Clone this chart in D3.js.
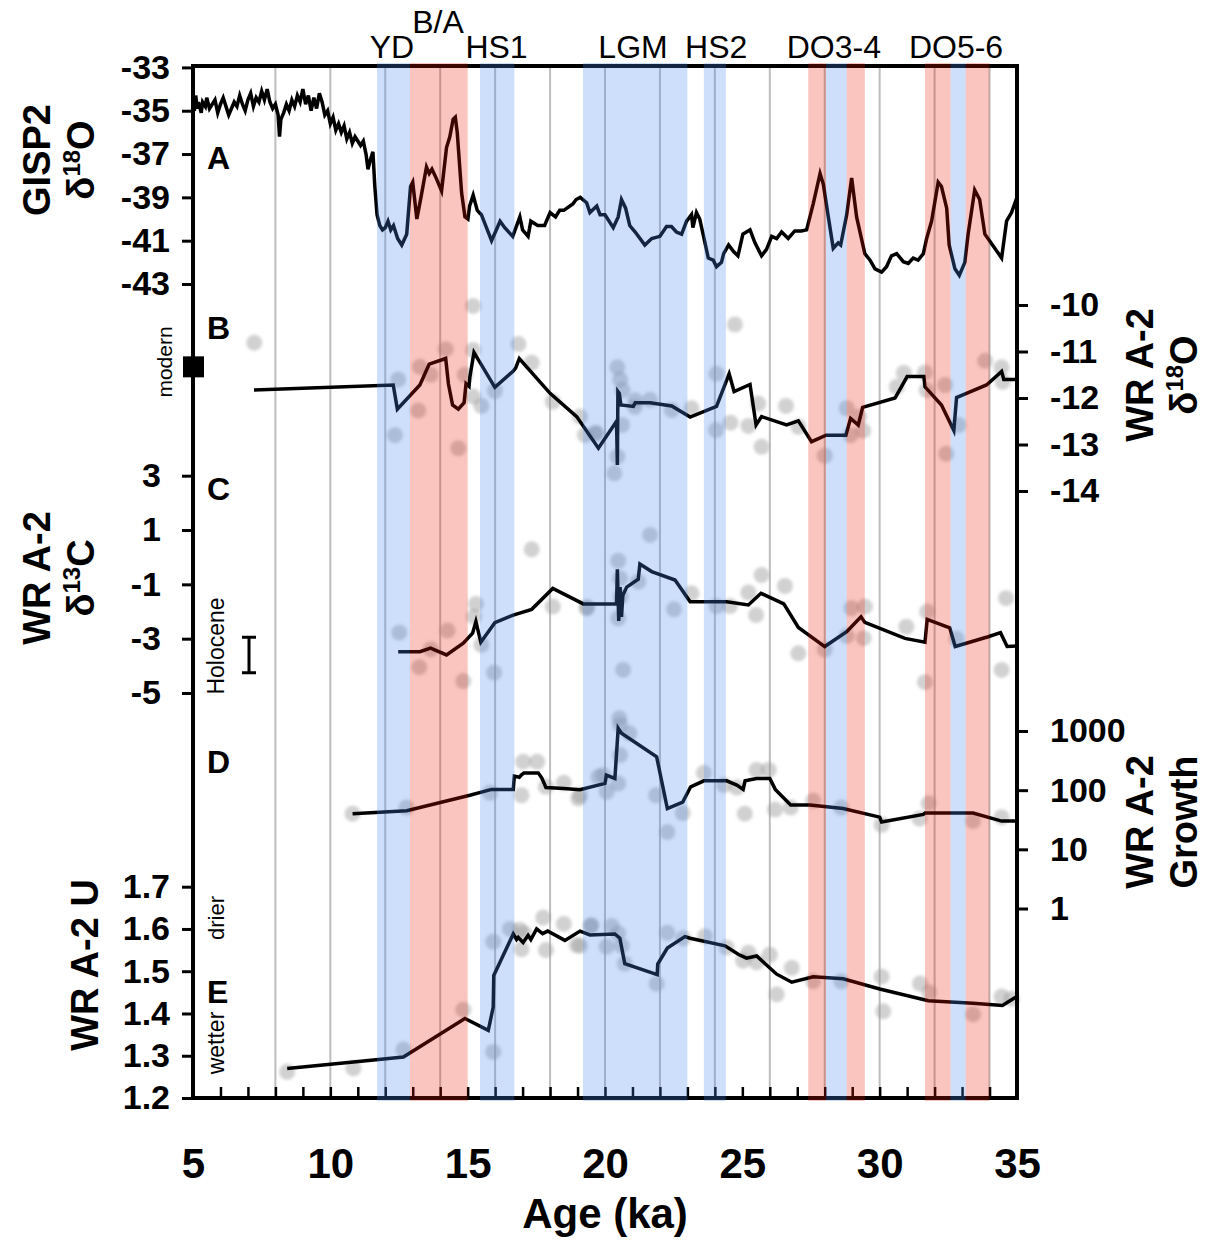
<!DOCTYPE html>
<html><head><meta charset="utf-8">
<script src="https://cdn.jsdelivr.net/npm/d3@7"></script>
<style>body{margin:0;background:#fff}svg{display:block}</style>
</head><body>
<svg id="chart" width="1228" height="1241"></svg>
<script>
// ---------------- DATA ----------------
const ageTicks = [5,10,15,20,25,30,35];
const gridAges = [8,10,12,14,16,18,20,22,24,26,28,30,32,34];
const gispTicks = [-33,-35,-37,-39,-41,-43];
const wrO18Ticks = [-10,-11,-12,-13,-14];
const wrC13Ticks = [3,1,-1,-3,-5];
const growthTicks = [1,10,100,1000];
const uTicks = [1.2,1.3,1.4,1.5,1.6,1.7];

// climate events: start age, end age, type
const bandStart = [11.7,12.9,15.45,19.2,23.6,27.4,28.05,28.8,31.65,32.58,33.13];
const bandEnd   = [12.9,15.0,16.7,23.0,24.4,28.05,28.8,29.46,32.58,33.13,34.0];
const bandType  = ['cold','warm','cold','cold','cold','warm','cold','warm','warm','cold','warm'];
const eventNames = ['YD','B/A','HS1','LGM','HS2','DO3-4','DO5-6'];
const eventAges  = [12.24,13.92,16.05,21.02,24.05,28.33,32.78];
const eventRaised = [false,true,false,false,false,false,false];

// A: GISP2 d18O
const gisp2 = [[5.0,-34.5],[5.05,-35.0],[5.1,-34.3],[5.15,-34.9],[5.2,-34.6],[5.3,-35.1],[5.35,-34.6],[5.45,-34.8],[5.5,-34.4],[5.6,-34.9],[5.7,-34.7],[5.8,-34.5],[5.9,-35.1],[6.0,-34.7],[6.1,-34.4],[6.2,-34.8],[6.3,-35.2],[6.4,-34.9],[6.5,-34.6],[6.6,-34.8],[6.7,-34.3],[6.8,-34.7],[6.9,-35.0],[7.0,-34.5],[7.1,-34.2],[7.2,-34.8],[7.3,-34.4],[7.4,-34.6],[7.5,-34.1],[7.6,-34.5],[7.7,-34.0],[7.8,-34.6],[7.9,-34.9],[8.0,-34.7],[8.1,-35.2],[8.15,-36.2],[8.2,-35.4],[8.3,-35.1],[8.4,-34.7],[8.5,-35.0],[8.6,-34.5],[8.7,-34.8],[8.8,-34.3],[8.9,-34.6],[9.0,-34.0],[9.1,-34.7],[9.2,-34.3],[9.3,-35.0],[9.4,-34.4],[9.5,-34.9],[9.6,-34.2],[9.7,-34.6],[9.8,-35.2],[9.9,-35.0],[10.0,-35.6],[10.1,-35.3],[10.2,-35.9],[10.3,-35.6],[10.4,-36.0],[10.5,-35.7],[10.6,-36.3],[10.7,-36.0],[10.8,-36.5],[10.9,-36.2],[11.0,-36.4],[11.1,-36.6],[11.2,-36.4],[11.3,-37.0],[11.37,-37.7],[11.45,-37.3],[11.55,-36.9],[11.62,-38.5],[11.7,-39.8],[11.8,-40.3],[11.9,-40.5],[12.0,-40.4],[12.1,-40.1],[12.2,-40.5],[12.3,-40.3],[12.45,-40.9],[12.6,-41.2],[12.78,-40.7],[12.92,-38.5],[13.0,-38.3],[13.15,-40.0],[13.3,-39.0],[13.5,-37.6],[13.6,-37.9],[13.7,-37.7],[13.85,-38.1],[14.05,-38.7],[14.23,-36.7],[14.35,-36.2],[14.47,-35.4],[14.55,-35.3],[14.62,-36.0],[14.78,-38.8],[14.9,-39.9],[15.01,-40.0],[15.07,-39.4],[15.2,-38.9],[15.35,-39.6],[15.5,-39.8],[15.87,-41.0],[16.18,-40.1],[16.35,-40.4],[16.64,-40.8],[16.9,-39.9],[17.0,-40.5],[17.2,-40.8],[17.3,-40.1],[17.55,-40.3],[17.8,-40.3],[18.0,-39.7],[18.2,-39.9],[18.35,-39.6],[18.5,-39.6],[18.83,-39.3],[18.95,-39.1],[19.1,-39.0],[19.33,-39.25],[19.45,-39.7],[19.7,-39.4],[19.82,-39.8],[20.0,-39.8],[20.3,-40.4],[20.48,-39.9],[20.6,-39.1],[20.75,-39.5],[20.9,-40.3],[21.1,-40.6],[21.45,-41.2],[21.7,-40.9],[22.0,-40.8],[22.24,-40.35],[22.42,-40.35],[22.6,-40.6],[22.79,-40.7],[22.97,-40.1],[23.15,-39.8],[23.2,-40.4],[23.33,-39.7],[23.45,-40.0],[23.64,-41.1],[23.76,-41.8],[23.94,-41.9],[24.06,-42.2],[24.24,-42.0],[24.32,-41.6],[24.5,-41.2],[24.68,-41.5],[24.84,-41.7],[25.02,-40.7],[25.28,-40.5],[25.46,-41.1],[25.7,-41.7],[25.88,-41.4],[26.07,-40.8],[26.25,-40.9],[26.43,-40.6],[26.67,-40.9],[26.91,-40.55],[27.15,-40.55],[27.34,-40.5],[27.58,-39.3],[27.83,-37.9],[27.95,-38.4],[28.13,-39.9],[28.31,-41.35],[28.49,-41.1],[28.58,-41.2],[28.8,-39.8],[28.98,-38.1],[29.16,-39.9],[29.46,-41.6],[29.65,-41.9],[29.83,-42.3],[30.07,-42.45],[30.25,-42.2],[30.43,-41.7],[30.62,-41.6],[30.86,-41.97],[31.04,-42.05],[31.22,-41.8],[31.4,-41.9],[31.59,-41.6],[31.71,-40.9],[31.89,-40.1],[32.13,-38.3],[32.25,-38.5],[32.44,-39.5],[32.53,-41.2],[32.74,-42.3],[32.9,-42.6],[33.1,-42.0],[33.22,-40.7],[33.46,-38.66],[33.64,-39.1],[33.83,-40.7],[34.0,-41.0],[34.44,-41.8],[34.62,-40.1],[34.8,-39.7],[35.0,-39.0]];

// B: WR A-2 d18O (smoothed line and samples)
const wrO18Line = [[7.22,-11.83],[12.29,-11.72],[12.44,-12.24],[13.26,-11.72],[13.6,-11.27],[14.2,-11.15],[14.3,-11.7],[14.45,-12.15],[14.66,-12.24],[14.87,-12.1],[14.94,-11.69],[15.05,-11.75],[15.08,-11.55],[15.23,-11.02],[15.99,-11.77],[16.66,-11.42],[16.75,-11.35],[16.88,-11.15],[18.0,-11.9],[18.97,-12.4],[19.76,-13.08],[20.42,-12.5],[20.45,-13.44],[20.47,-11.86],[20.52,-11.9],[20.58,-12.15],[21.03,-12.18],[21.1,-12.1],[21.64,-12.1],[22.43,-12.17],[23.1,-12.41],[24.06,-12.18],[24.52,-11.48],[24.7,-11.86],[25.28,-11.71],[25.5,-12.58],[25.7,-12.4],[26.61,-12.58],[27.04,-12.49],[27.52,-12.94],[28.05,-12.8],[28.77,-12.8],[28.94,-12.44],[29.22,-12.58],[29.38,-12.2],[30.56,-12.0],[31.0,-11.54],[31.61,-11.54],[31.65,-11.76],[32.25,-12.15],[32.7,-12.7],[32.8,-11.99],[33.16,-11.9],[33.89,-11.72],[34.44,-11.43],[34.52,-11.6],[35.0,-11.6]];
const wrO18Pts = [[7.23,-10.81],[12.35,-12.8],[12.47,-11.6],[13.2,-12.27],[13.26,-11.33],[13.65,-11.5],[14.2,-10.95],[14.66,-13.08],[14.9,-11.5],[15.2,-10.02],[15.2,-10.97],[15.2,-11.97],[15.5,-12.17],[15.99,-11.85],[16.85,-10.84],[17.33,-11.24],[18.1,-12.08],[19.09,-12.4],[19.27,-12.8],[19.63,-12.76],[19.7,-12.76],[20.34,-13.62],[20.45,-13.26],[20.45,-11.34],[20.55,-11.6],[20.62,-12.58],[20.64,-11.83],[21.09,-12.19],[21.1,-12.05],[21.64,-12.04],[22.43,-12.26],[23.15,-12.22],[24.04,-12.69],[24.06,-11.48],[24.57,-12.53],[24.73,-10.42],[25.22,-12.6],[25.58,-12.12],[25.7,-13.05],[26.59,-12.17],[27.04,-12.62],[28.0,-13.24],[28.8,-12.22],[28.94,-12.8],[29.25,-12.4],[29.4,-12.7],[30.62,-11.76],[30.88,-11.46],[31.65,-11.45],[31.71,-11.83],[32.38,-11.72],[32.42,-13.2],[32.87,-12.58],[33.84,-11.2],[34.44,-11.34],[34.48,-11.65]];
const modernO18 = -11.33;

// C: WR A-2 d13C
const wrC13Line = [[12.47,-3.48],[13.26,-3.48],[13.65,-3.35],[14.23,-3.6],[14.84,-3.17],[15.18,-2.8],[15.3,-2.37],[15.48,-3.13],[15.99,-2.41],[16.66,-2.13],[17.33,-1.92],[18.1,-1.15],[19.21,-1.72],[20.42,-1.72],[20.45,-0.45],[20.5,-2.35],[20.55,-1.1],[20.6,-2.2],[20.65,-1.4],[20.79,-1.1],[21.21,-0.81],[21.27,-0.25],[21.7,-0.53],[22.55,-0.84],[23.1,-1.64],[24.43,-1.64],[25.22,-1.76],[25.68,-1.33],[26.51,-1.72],[27.04,-2.59],[28.0,-3.29],[28.8,-2.74],[29.32,-2.19],[29.46,-2.4],[30.92,-2.99],[31.65,-3.13],[31.73,-2.29],[32.55,-2.6],[32.75,-3.29],[33.95,-2.93],[34.4,-2.78],[34.64,-3.29],[35.0,-3.27]];
const wrC13Pts = [[12.51,-2.78],[13.24,-4.05],[13.66,-3.39],[14.27,-2.7],[14.84,-4.56],[15.23,-2.19],[15.3,-1.72],[15.5,-3.23],[15.96,-4.25],[17.33,0.29],[18.1,-1.82],[19.33,-1.88],[19.35,-1.84],[20.48,-0.13],[20.48,-2.25],[20.55,-0.78],[20.57,-1.45],[20.66,-4.15],[21.21,-0.9],[21.64,0.82],[22.51,-1.92],[23.15,-1.33],[24.06,-1.8],[24.55,-1.8],[25.22,-1.3],[25.5,-2.13],[25.7,-0.66],[26.55,-1.06],[27.04,-3.54],[28.0,-3.4],[28.8,-2.9],[28.97,-1.88],[29.42,-2.98],[29.46,-1.82],[30.97,-2.56],[31.65,-4.6],[31.73,-2.0],[32.8,-3.0],[34.44,-4.15],[34.6,-1.51]];
const holoceneC13 = [-4.25,-2.95];

// D: WR A-2 growth (log)
const growthLine = [[10.81,40],[12.78,45],[15.08,82],[15.87,103],[16.66,103],[16.7,173],[16.88,165],[16.95,180],[17.05,196],[17.57,196],[17.7,160],[17.85,111],[18.5,107],[19.09,102],[20.0,130],[20.05,180],[20.36,158],[20.48,1111],[20.6,914],[21.88,366],[22.27,49],[22.83,63],[23.12,114],[23.6,144],[24.43,144],[24.8,122],[25.03,103],[25.1,144],[25.52,158],[26.0,158],[26.2,103],[26.76,56],[27.46,56],[28.67,49],[30.0,35],[30.07,29],[31.59,39],[31.65,41],[33.4,41],[34.44,30],[35.0,30]];
const growthPts = [[10.81,40],[12.77,51],[15.81,90],[16.96,82],[17.02,302],[17.53,302],[17.85,114],[18.5,133],[19.03,72],[19.09,82],[19.76,168],[19.94,180],[20.06,94],[20.48,130],[20.52,1640],[20.55,1265],[20.55,392],[20.89,914],[21.86,82],[22.27,19.6],[22.83,41],[23.6,196],[24.33,122],[24.8,111],[25.09,40],[25.52,219],[25.96,219],[26.19,47],[26.76,51],[27.58,66],[28.6,51],[30.07,26],[31.45,33],[31.78,60],[33.4,30],[34.44,35]];

// E: WR A-2 U
const uLine = [[8.43,1.27],[10.84,1.285],[12.66,1.297],[14.9,1.388],[15.75,1.36],[15.93,1.415],[15.95,1.49],[16.66,1.588],[16.78,1.575],[16.84,1.58],[17.02,1.568],[17.2,1.585],[17.3,1.575],[17.51,1.6],[17.73,1.589],[17.91,1.595],[18.54,1.573],[19.09,1.595],[19.45,1.586],[20.36,1.588],[20.54,1.578],[20.72,1.518],[21.9,1.492],[21.92,1.517],[22.27,1.555],[22.91,1.582],[23.1,1.578],[24.37,1.56],[24.85,1.54],[25.15,1.531],[25.52,1.536],[26.25,1.493],[26.8,1.474],[27.58,1.487],[28.67,1.482],[30.0,1.458],[31.77,1.43],[33.4,1.424],[34.47,1.419],[34.86,1.435],[35.0,1.44]];
const uPts = [[8.43,1.262],[10.84,1.27],[12.66,1.315],[14.84,1.409],[15.93,1.57],[15.93,1.309],[16.54,1.6],[16.9,1.598],[16.96,1.552],[17.05,1.59],[17.75,1.627],[17.85,1.55],[18.5,1.612],[18.97,1.562],[19.09,1.56],[19.48,1.607],[19.5,1.609],[20.06,1.558],[20.24,1.607],[20.48,1.59],[20.61,1.56],[20.72,1.518],[21.88,1.47],[22.27,1.591],[22.85,1.578],[23.64,1.583],[24.43,1.556],[25.03,1.525],[25.22,1.544],[25.52,1.521],[26.0,1.539],[26.25,1.445],[26.8,1.508],[27.58,1.476],[28.6,1.476],[30.07,1.487],[30.13,1.405],[31.47,1.471],[31.8,1.45],[33.4,1.398],[34.44,1.44],[34.8,1.435]];

// ---------------- DRAW ----------------
const FONT = "'Liberation Sans','Arial',sans-serif";
const svg = d3.select('#chart');
const defs = svg.append('defs');
defs.append('filter').attr('id','soft').attr('x','-50%').attr('y','-50%').attr('width','200%').attr('height','200%')
  .append('feGaussianBlur').attr('stdDeviation',1.6);

const L = 193, R = 1017, T = 66, B = 1098;
const x = d3.scaleLinear().domain([5,35]).range([L,R]);
const yA = d3.scaleLinear().domain([-43,-33]).range([284,67.4]);
const yB = d3.scaleLinear().domain([-14,-10]).range([491,305]);
const yC = d3.scaleLinear().domain([-5,3]).range([693,475.7]);
const yD = d3.scaleLog().domain([1,1000]).range([908.5,731]);
const yE = d3.scaleLinear().domain([1.2,1.7]).range([1098,886.7]);

// gridlines
svg.append('g').selectAll('line').data(gridAges).join('line')
  .attr('x1',d=>x(d)).attr('x2',d=>x(d)).attr('y1',T).attr('y2',B)
  .attr('stroke','#bdbdbd').attr('stroke-width',2);

// sample points
function pts(data, ys){
  svg.append('g').attr('filter','url(#soft)').selectAll('circle').data(data).join('circle')
    .attr('cx',d=>x(d[0])).attr('cy',d=>ys(d[1])).attr('r',8)
    .attr('fill','#9a9a9a').attr('fill-opacity',0.45);
}
pts(wrO18Pts,yB); pts(wrC13Pts,yC); pts(growthPts,yD); pts(uPts,yE);

// lines
function line(data, ys, w){
  svg.append('path').datum(data)
    .attr('d', d3.line().x(d=>x(d[0])).y(d=>ys(d[1])))
    .attr('fill','none').attr('stroke','#000').attr('stroke-width',w).attr('stroke-linejoin','miter');
}
line(gisp2,yA,3.5); line(wrO18Line,yB,3.5); line(wrC13Line,yC,3.5); line(growthLine,yD,3.5); line(uLine,yE,3.5);

// modern marker & Holocene range
svg.append('rect').attr('x',x(5)-10).attr('y',yB(modernO18)-10.5).attr('width',21).attr('height',21).attr('fill','#000');
const hx = 249;
svg.append('path').attr('d',`M${hx-7},${yC(holoceneC13[1])}H${hx+7}M${hx},${yC(holoceneC13[1])}V${yC(holoceneC13[0])}M${hx-7},${yC(holoceneC13[0])}H${hx+7}`)
  .attr('stroke','#000').attr('stroke-width',3).attr('fill','none');

// axes
function styleAxis(g, fs){
  g.select('.domain').remove();
  g.selectAll('.tick line').attr('stroke','#000').attr('stroke-width',3);
  g.selectAll('.tick text').attr('font-family',FONT).attr('font-weight','bold').attr('font-size',fs).attr('fill','#000');
}
const fmt = d => String(d);
svg.append('g').attr('transform',`translate(${L},0)`).call(d3.axisLeft(yA).tickValues(gispTicks).tickFormat(fmt).tickSize(11).tickPadding(12)).call(styleAxis,34);
svg.append('g').attr('transform',`translate(${L},0)`).call(d3.axisLeft(yC).tickValues(wrC13Ticks).tickFormat(fmt).tickSize(11).tickPadding(21)).call(styleAxis,34);
svg.append('g').attr('transform',`translate(${L},0)`).call(d3.axisLeft(yE).tickValues(uTicks).tickFormat(d3.format('.1f')).tickSize(11).tickPadding(12)).call(styleAxis,34);
svg.append('g').attr('transform',`translate(${R},0)`).call(d3.axisRight(yB).tickValues(wrO18Ticks).tickFormat(fmt).tickSize(11).tickPadding(22)).call(styleAxis,34);
svg.append('g').attr('transform',`translate(${R},0)`).call(d3.axisRight(yD).tickValues(growthTicks).tickFormat(d3.format('d')).tickSize(11).tickPadding(22)).call(styleAxis,34);
// x axis: minor inner ticks, labels below
svg.append('g').attr('transform',`translate(0,${B})`).call(d3.axisBottom(x).tickValues(d3.range(6,35)).tickSize(-11).tickFormat('')).call(g=>{g.select('.domain').remove();g.selectAll('.tick line').attr('stroke','#000').attr('stroke-width',2.5);});
svg.append('g').attr('transform',`translate(0,${B})`).call(d3.axisBottom(x).tickValues(ageTicks).tickSize(0).tickPadding(50).tickFormat(fmt)).call(styleAxis,42);

// frame
svg.append('rect').attr('x',L).attr('y',T).attr('width',R-L).attr('height',B-T)
  .attr('fill','none').attr('stroke','#000').attr('stroke-width',4);

// bands on top
svg.append('g').selectAll('rect').data(bandStart.map((s,i)=>[s,bandEnd[i],bandType[i]])).join('rect')
  .attr('x',d=>x(d[0])).attr('width',d=>x(d[1])-x(d[0])).attr('y',T-3).attr('height',B-T+6)
  .attr('fill',d=>d[2]==='cold'?'rgb(74,137,241)':'rgb(240,22,0)')
  .attr('fill-opacity',d=>d[2]==='cold'?0.27:0.25);

// event labels
svg.append('g').selectAll('text').data(eventNames).join('text')
  .attr('x',(d,i)=>x(eventAges[i])).attr('y',(d,i)=>eventRaised[i]?33:58)
  .attr('text-anchor','middle').attr('font-family',FONT).attr('font-size',32).text(d=>d);

// panel letters
const letters = [['A',yA(-37.2)],['B',yB(-10.5)],['C',yC(2.5)],['D',yD(300)],['E',yE(1.45)]];
svg.append('g').selectAll('text').data(letters).join('text')
  .attr('x',207).attr('y',d=>d[1]+11).attr('font-family',FONT).attr('font-weight','bold').attr('font-size',32).text(d=>d[0]);

// small rotated notes
function vtext(txt, cx, cy, fs, bold){
  return svg.append('text').attr('transform',`translate(${cx},${cy}) rotate(-90)`).attr('text-anchor','middle')
    .attr('dominant-baseline','central').attr('font-family',FONT).attr('font-size',fs).attr('font-weight',bold?'bold':'normal').text(txt);
}
vtext('modern',164,362,21,false);
vtext('Holocene',216,646,23,false);
vtext('drier',216,918,22,false);
vtext('wetter',216,1043,23,false);

// axis titles (rotated, two lines)
function title2(l1, l2sup, cxs, cy){
  const t = svg.append('text').attr('transform',`translate(${cxs[0]},${cy}) rotate(-90)`).attr('text-anchor','middle')
    .attr('font-family',FONT).attr('font-weight','bold').attr('font-size',38);
  t.append('tspan').attr('x',0).attr('y',0).text(l1);
  if(l2sup){
    const t2 = t.append('tspan').attr('x',0).attr('dy',cxs[1]-cxs[0]);
    t2.text(l2sup[0]);
    t.append('tspan').attr('font-size',24).attr('dy',-14).text(l2sup[1]);
    t.append('tspan').attr('dy',14).text(l2sup[2]);
  }
}
title2('GISP2',['δ','18','O'],[50,94],160);
title2('WR A-2',['δ','13','C'],[50,94],578);
title2('WR A-2 U',null,[98,0],965);
title2('WR A-2',['δ','18','O'],[1153,1197],375);
title2('WR A-2',['Growth','',''],[1153,1197],822);

// x title
svg.append('text').attr('x',605).attr('y',1228).attr('text-anchor','middle').attr('font-family',FONT)
  .attr('font-weight','bold').attr('font-size',42).text('Age (ka)');
</script>
</body></html>
